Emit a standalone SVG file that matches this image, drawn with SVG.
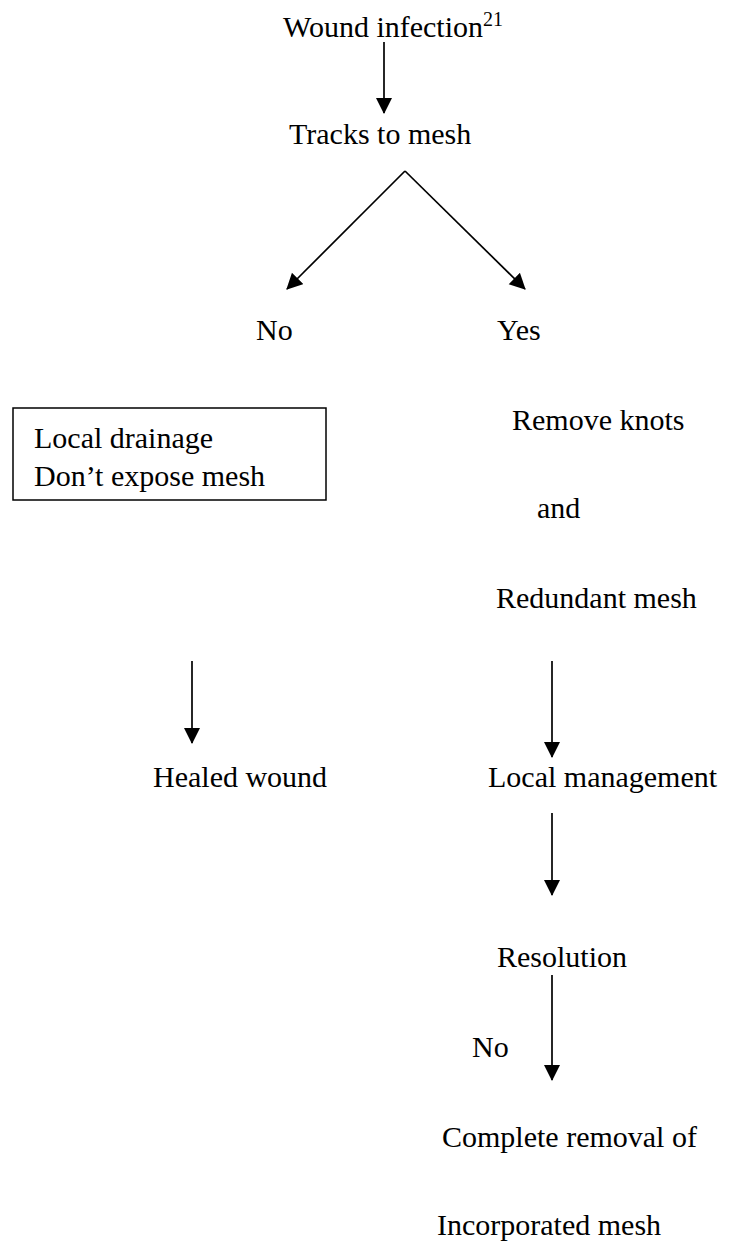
<svg xmlns="http://www.w3.org/2000/svg" width="737" height="1245" viewBox="0 0 737 1245">
<style>
  text { font-family: "Liberation Serif", "Times New Roman", serif; font-size: 30px; fill: #000; }
  .sup { font-size: 20px; }
  .conn { stroke: #000; stroke-width: 1.7; fill: none; marker-end: url(#ah); }
  .box { fill: #fff; stroke: #000; stroke-width: 1.5; }
</style>
<defs>
  <marker id="ah" markerUnits="userSpaceOnUse" markerWidth="17" markerHeight="17" refX="15" refY="8" orient="auto">
    <path d="M0,0 L16,8 L0,16 z" fill="#000"/>
  </marker>
</defs>
<rect width="737" height="1245" fill="#fff"/>
<g id="connectors">
  <line class="conn" x1="384" y1="42" x2="384" y2="113"/>
  <line class="conn" x1="405" y1="171" x2="287" y2="289"/>
  <line class="conn" x1="405" y1="171" x2="525" y2="289"/>
  <line class="conn" x1="192" y1="661" x2="192" y2="743"/>
  <line class="conn" x1="552" y1="661" x2="552" y2="757"/>
  <line class="conn" x1="552" y1="813" x2="552" y2="895"/>
  <line class="conn" x1="552" y1="975" x2="552" y2="1080"/>
</g>
<g id="wound-infection"><text x="283" y="37">Wound infection<tspan class="sup" dy="-11">21</tspan></text></g>
<g id="tracks-to-mesh"><text x="289" y="144">Tracks to mesh</text></g>
<g id="no-branch"><text x="256" y="340">No</text></g>
<g id="yes-branch"><text x="497" y="340">Yes</text></g>
<g id="local-drainage">
  <rect class="box" x="13" y="408" width="313" height="92"/>
  <text x="34" y="448">Local drainage</text>
  <text x="34" y="486">Don’t expose mesh</text>
</g>
<g id="remove-knots">
  <text x="512" y="430">Remove knots</text>
  <text x="537" y="518">and</text>
  <text x="496" y="608">Redundant mesh</text>
</g>
<g id="healed-wound"><text x="153" y="787">Healed wound</text></g>
<g id="local-management"><text x="488" y="787">Local management</text></g>
<g id="resolution"><text x="497" y="967">Resolution</text></g>
<g id="no-label"><text x="472" y="1057">No</text></g>
<g id="complete-removal">
  <text x="442" y="1147">Complete removal of</text>
  <text x="437" y="1235">Incorporated mesh</text>
</g>
</svg>
